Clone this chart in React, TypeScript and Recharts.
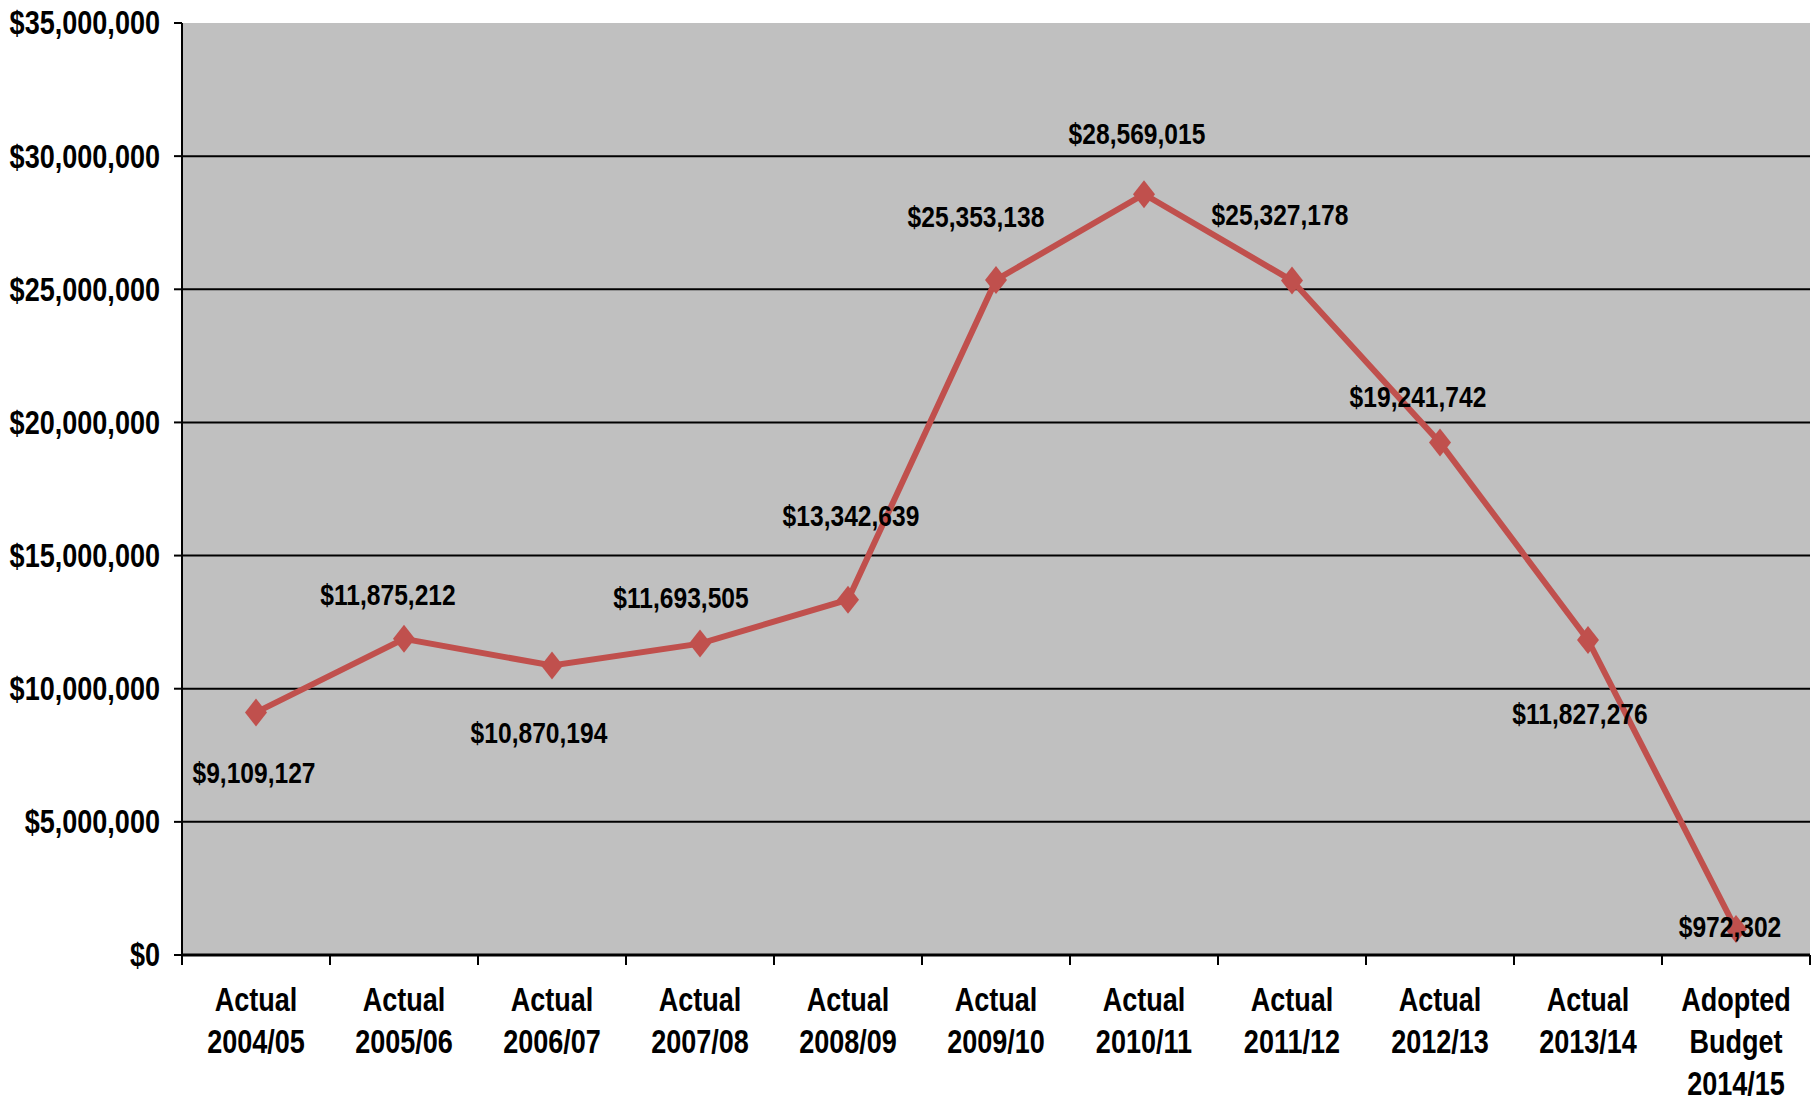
import React from 'react'
import { LineChart, Line, XAxis, YAxis, CartesianGrid, LabelList } from 'recharts'

// fiscal years
const periods = [
  'Actual\n2004/05', 'Actual\n2005/06', 'Actual\n2006/07', 'Actual\n2007/08',
  'Actual\n2008/09', 'Actual\n2009/10', 'Actual\n2010/11', 'Actual\n2011/12',
  'Actual\n2012/13', 'Actual\n2013/14', 'Adopted\nBudget\n2014/15',
]
const amounts = [
  9109127, 11875212, 10870194, 11693505, 13342639, 25353138,
  28569015, 25327178, 19241742, 11827276, 972302,
]
const yTicks = [0, 5000000, 10000000, 15000000, 20000000, 25000000, 30000000, 35000000]

// where each value label sits relative to its point (dx, dy)
const labelOffsets = [
  [-2, 60], [-16, -44], [-13, 67], [-19, -46], [3, -84], [-20, -63],
  [-7, -61], [-12, -66], [-22, -46], [-8, 74], [-6, -2],
]

const data = periods.map((period, i) => ({ period, amount: amounts[i] }))

const W = 1819
const H = 1103
const LEFT = 182
const RIGHT = 9
const TOP = 23
const BOTTOM = 148
const BAND = (W - LEFT - RIGHT) / periods.length
// no Arial Narrow here, so squeeze Liberation Sans Bold horizontally
const FONT = '"Liberation Sans", Arial, sans-serif'
const SQUEEZE = 0.82
const RED = '#C0504D'

const money = (v: number) => '$' + v.toLocaleString('en-US')

// condensed bold text
const Narrow = ({ x, y, size, anchor = 'middle', baseline, children }: any) => (
  <text transform={`translate(${x},${y}) scale(${SQUEEZE},1)`} x={0} y={0} textAnchor={anchor}
    dominantBaseline={baseline} fontFamily={FONT} fontWeight="bold" fontSize={size} fill="#000">
    {children}
  </text>
)

const Diamond = (props: any) => {
  const { cx, cy } = props
  if (cx == null || cy == null) return null
  return <polygon points={`${cx},${cy - 14} ${cx + 11},${cy} ${cx},${cy + 14} ${cx - 11},${cy}`} fill={RED} />
}

const XTick = (props: any) => {
  const { x, y, payload, index } = props
  const lines = String(payload.value).split('\n')
  const last = index === periods.length - 1
  return (
    <g>
      <line x1={x - BAND / 2} x2={x - BAND / 2} y1={y - 8} y2={y + 2} stroke="#000" strokeWidth={2} />
      {last && <line x1={x + BAND / 2} x2={x + BAND / 2} y1={y - 8} y2={y + 2} stroke="#000" strokeWidth={2} />}
      {lines.map((l, i) => (
        <Narrow key={i} x={x} y={y + 48 + i * 42} size={33}>{l}</Narrow>
      ))}
    </g>
  )
}

const YTick = (props: any) => {
  const { x, y, payload } = props
  return <Narrow x={x} y={y} size={33} anchor="end" baseline="central">{money(payload.value)}</Narrow>
}

const ValueLabel = (props: any) => {
  const { x, y, value, index } = props
  const [dx, dy] = labelOffsets[index] || [0, -40]
  return <Narrow x={x + dx} y={y + dy} size={30} baseline="central">{money(value)}</Narrow>
}

export default function App() {
  return (
    <div style={{ position: 'absolute', left: 0, top: 0, width: W, height: H, background: '#fff' }}>
      <LineChart width={W} height={H} data={data} margin={{ top: TOP, right: RIGHT, bottom: 0, left: 0 }}>
        <CartesianGrid vertical={false} fill="#C0C0C0" stroke="#000" strokeWidth={2}
          horizontalValues={[5000000, 10000000, 15000000, 20000000, 25000000, 30000000]} />
        <XAxis dataKey="period" scale="band" interval={0} height={BOTTOM}
          axisLine={{ stroke: '#000', strokeWidth: 3 }} tickLine={false} tick={<XTick />} />
        <XAxis xAxisId="top" dataKey="period" orientation="top" scale="band" height={0}
          tick={false} tickLine={false} axisLine={{ stroke: '#808080', strokeWidth: 3 }} />
        <YAxis domain={[0, 35000000]} ticks={yTicks} width={LEFT} tickSize={8} tickMargin={14}
          axisLine={{ stroke: '#000', strokeWidth: 2 }} tickLine={{ stroke: '#000', strokeWidth: 2 }}
          tick={<YTick />} />
        <YAxis yAxisId="right" orientation="right" width={0} tick={false} tickLine={false}
          axisLine={{ stroke: '#808080', strokeWidth: 3 }} />
        <Line dataKey="amount" stroke={RED} strokeWidth={6} dot={<Diamond />} activeDot={false}
          isAnimationActive={false}>
          <LabelList dataKey="amount" content={<ValueLabel />} />
        </Line>
      </LineChart>
    </div>
  )
}
